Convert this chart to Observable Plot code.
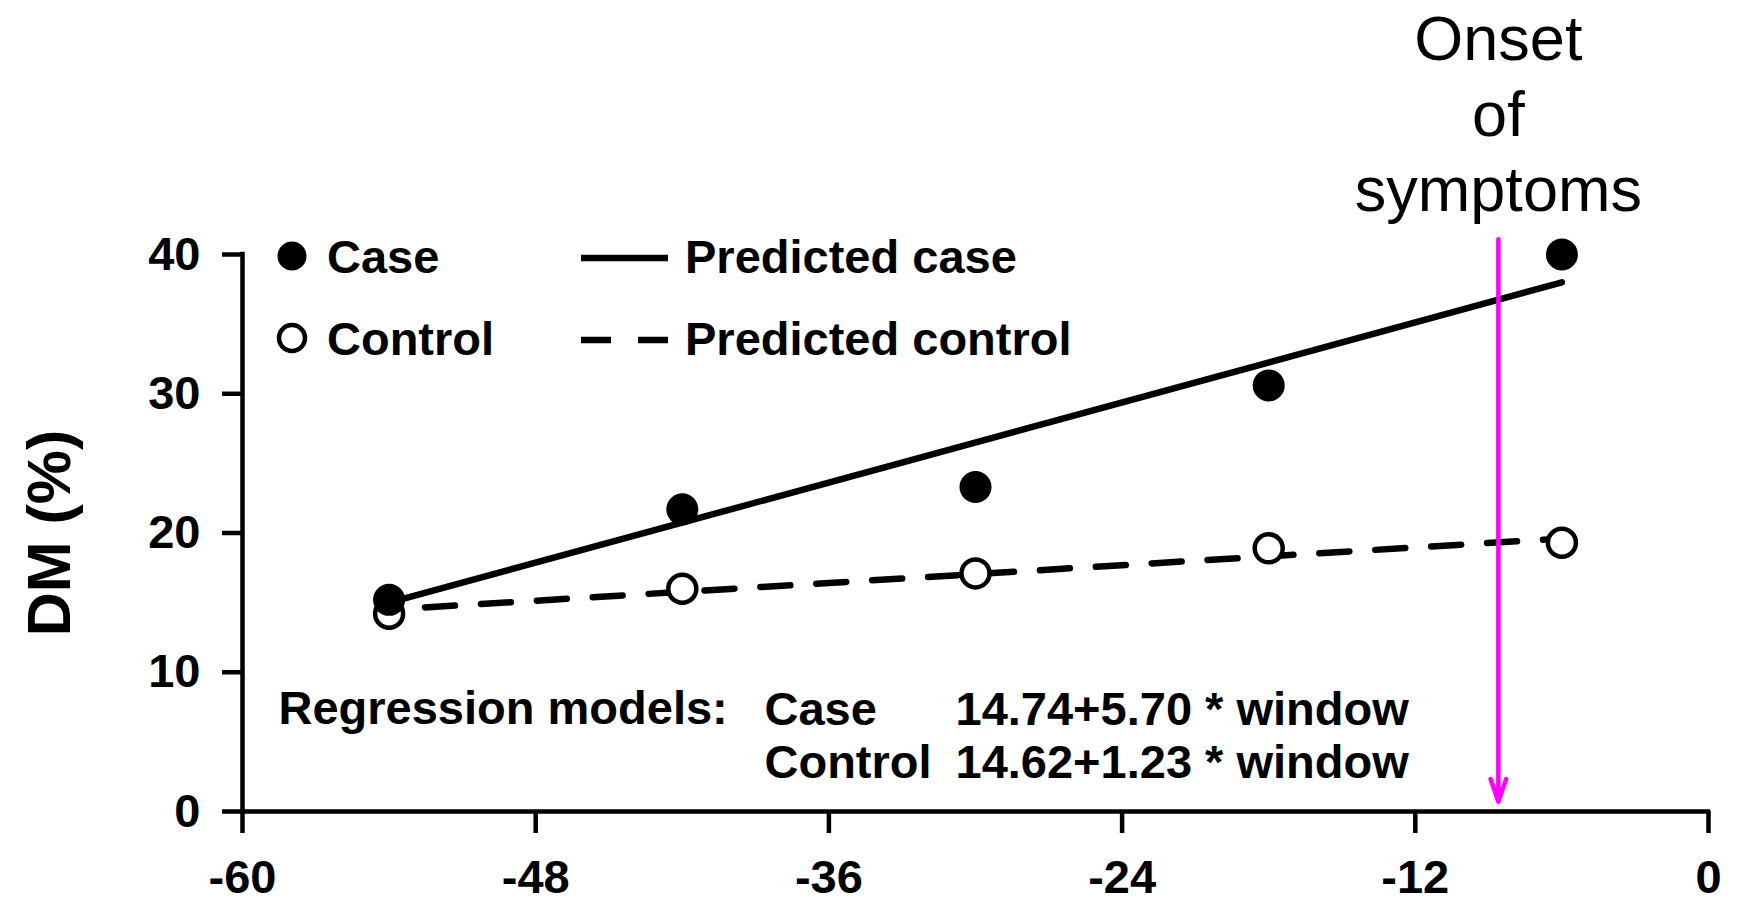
<!DOCTYPE html>
<html>
<head>
<meta charset="utf-8">
<script src="https://cdn.jsdelivr.net/npm/d3@7"></script>
<script src="https://cdn.jsdelivr.net/npm/@observablehq/plot@0.6"></script>
<style>
  html, body { margin: 0; padding: 0; background: #fff; }
  #chart svg { display: block; }
</style>
</head>
<body>
<div id="chart"></div>
<script>
// ---- data ----
const windowMonths = [-54, -42, -30, -18, -6];
const caseDM = [15.2, 21.7, 23.3, 30.6, 40.0];
const controlDM = [14.2, 16.0, 17.1, 18.9, 19.3];

const predictedX = [-54, -6];
const predictedCase = [15.0, 38.0];
const predictedControl = [14.5, 19.6];

const xTicks = [-60, -48, -36, -24, -12, 0];
const yTicks = [0, 10, 20, 30, 40];

const onsetX = -8.6;
const onsetTop = 41.1;
const onsetBottom = 0.7;
const onsetLabel = ["Onset", "of", "symptoms"];

const legendLabels = ["Case", "Control", "Predicted case", "Predicted control"];
const regressionTitle = "Regression models:";
const regressionGroups = ["Case", "Control"];
const regressionModels = ["14.74+5.70 * window", "14.62+1.23 * window"];
const yLabel = "DM (%)";

// ---- tables built from the arrays ----
const points = windowMonths.map((w, i) => ({w, caseV: caseDM[i], ctrlV: controlDM[i]}));
const pred = predictedX.map((w, i) => ({w, c: predictedCase[i], k: predictedControl[i]}));

const FONT = "'Liberation Sans', Arial, Helvetica, sans-serif";
const BOLD = 47;

// legend drawn relative to the plot frame
function legend(index, scales, values, dims) {
  const g = d3.create("svg:g")
    .attr("transform", `translate(${dims.marginLeft},${dims.marginTop})`)
    .attr("font-family", FONT)
    .attr("font-weight", "bold")
    .attr("font-size", BOLD)
    .attr("text-anchor", "start");
  g.append("circle").attr("cx", 50).attr("cy", 2).attr("r", 14.5).attr("fill", "#000");
  g.append("circle").attr("cx", 50).attr("cy", 84).attr("r", 13).attr("fill", "#fff")
    .attr("stroke", "#000").attr("stroke-width", 4.5);
  g.append("line").attr("x1", 339).attr("x2", 426).attr("y1", 4).attr("y2", 4)
    .attr("stroke", "#000").attr("stroke-width", 6.5);
  g.append("line").attr("x1", 339).attr("x2", 426).attr("y1", 86).attr("y2", 86)
    .attr("stroke", "#000").attr("stroke-width", 6.5).attr("stroke-dasharray", "30,27");
  const tx = [85, 85, 443, 443], ty = [3, 85, 3, 85];
  legendLabels.forEach((t, i) => {
    g.append("text").attr("x", tx[i]).attr("y", ty[i]).attr("dy", "0.35em").text(t);
  });
  return g.node();
}

const chart = Plot.plot({
  width: 1738,
  height: 906,
  marginLeft: 242,
  marginRight: 30,
  marginTop: 254,
  marginBottom: 95,
  style: {fontFamily: FONT, background: "#fff", color: "#000"},
  x: {domain: [-60, 0]},
  y: {domain: [0, 40]},
  marks: [
    Plot.axisX({ticks: xTicks, tickFormat: d => String(d), tickSize: 22, tickPadding: 26,
      fontSize: BOLD, fontWeight: "bold", strokeWidth: 4.5, label: null}),
    Plot.axisY({ticks: yTicks, tickFormat: d => String(d), tickSize: 20, tickPadding: 22,
      fontSize: BOLD, fontWeight: "bold", strokeWidth: 4.5, label: null}),
    Plot.ruleX([-60], {strokeWidth: 4.5, strokeLinecap: "square"}),
    Plot.ruleY([0], {strokeWidth: 4.5, strokeLinecap: "square"}),
    Plot.text([yLabel], {frameAnchor: "left", rotate: -90, dx: -192, fontSize: 61,
      textAnchor: "middle", lineAnchor: "middle", fontWeight: "bold", fill: "#000"}),
    // predicted lines
    Plot.line(pred, {x: "w", y: "c", stroke: "#000", strokeWidth: 6.5}),
    Plot.line(pred, {x: "w", y: "k", stroke: "#000", strokeWidth: 6.5, strokeDasharray: "30,26", strokeDashoffset: 20}),
    // observed points
    Plot.dot(points, {x: "w", y: "ctrlV", r: 14, fill: "#fff", stroke: "#000", strokeWidth: 4.5}),
    Plot.dot(points, {x: "w", y: "caseV", r: 16, fill: "#000", stroke: "none"}),
    // onset arrow and label
    Plot.arrow([onsetX], {x1: d => d, x2: d => d, y1: () => onsetTop, y2: () => onsetBottom,
      stroke: "#ff00ff", strokeWidth: 4.5, headLength: 8, headAngle: 38}),
    Plot.text([onsetX], {x: d => d, frameAnchor: "top", dy: -143, text: () => onsetLabel.join("\n"),
      lineAnchor: "middle", lineHeight: 1.2, fontSize: 63, fill: "#000", textAnchor: "middle"}),
    // regression annotation
    Plot.text([regressionTitle], {frameAnchor: "top-left", dx: 36, dy: 454, textAnchor: "start",
      lineAnchor: "middle", fontSize: BOLD, fontWeight: "bold", fill: "#000"}),
    Plot.text([regressionGroups.join("\n")], {frameAnchor: "top-left", dx: 522, dy: 480, textAnchor: "start",
      lineAnchor: "middle", lineHeight: 1.12, fontSize: BOLD, fontWeight: "bold", fill: "#000"}),
    Plot.text([regressionModels.join("\n")], {frameAnchor: "top-left", dx: 713, dy: 480, textAnchor: "start",
      lineAnchor: "middle", lineHeight: 1.12, fontSize: BOLD, fontWeight: "bold", fill: "#000"}),
    legend
  ]
});
document.getElementById("chart").appendChild(chart);
</script>
</body>
</html>
